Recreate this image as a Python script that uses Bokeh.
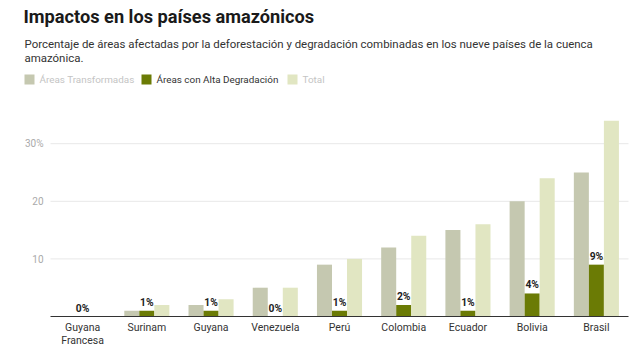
from bokeh.plotting import figure
from bokeh.models import ColumnDataSource, Range1d
from bokeh.layouts import column
from bokeh.transform import dodge
from bokeh.core.properties import value
from bokeh.embed import file_html
from bokeh.resources import INLINE

countries = ["Guyana Francesa", "Surinam", "Guyana", "Venezuela", "Perú",
             "Colombia", "Ecuador", "Bolivia", "Brasil"]
label_line1 = ["Guyana", "Surinam", "Guyana", "Venezuela", "Perú",
               "Colombia", "Ecuador", "Bolivia", "Brasil"]
label_line2 = ["Francesa", "", "", "", "", "", "", "", ""]
transformadas = [0, 1, 2, 5, 9, 12, 15, 20, 25]
alta_degradacion = [0, 1, 1, 0, 1, 2, 1, 4, 9]
total = [0, 2, 3, 5, 10, 14, 16, 24, 34]
y_ticks = [10, 20, 30]
y_tick_labels = ["10", "20", "30%"]

title = "Impactos en los países amazónicos"
subtitle_1 = "Porcentaje de áreas afectadas por la deforestación y degradación combinadas en los nueve países de la cuenca"
subtitle_2 = "amazónica."
legend_names = ["Áreas Transformadas", "Áreas con Alta Degradación", "Total"]

C_TRANS = "#c5c8b0"
C_ALTA = "#6b7b05"
C_TOTAL = "#e1e6c2"
FONT = "Roboto"

W = 640
HEAD_H = 100
CHART_H = 249
LEFT, RIGHT = 50, 12          # px margins of the bar area
PX_PER_UNIT = 5.76            # px per percentage point
BASE = 216                    # baseline, px from top of chart figure

# ---------------- header ----------------
h = figure(width=W, height=HEAD_H, x_range=Range1d(0, W), y_range=Range1d(HEAD_H, 0),
           output_backend="svg", toolbar_location=None,
           x_axis_location=None, y_axis_location=None,
           min_border=0, min_border_left=0, min_border_right=0,
           min_border_top=0, min_border_bottom=0)
h.grid.visible = False
h.outline_line_color = None

h.text(x=[23], y=[16], text=[title], text_font=value(FONT), text_font_size="18.2px",
       text_font_style="bold", text_color="#1a1a1a", text_baseline="middle")
h.text(x=[24, 24], y=[43, 57], text=[subtitle_1, subtitle_2], text_font=value(FONT),
       text_font_size="11.45px", text_color="#333333", text_baseline="middle")

leg_x = [24, 141, 287]
leg_src = ColumnDataSource(dict(
    x=leg_x, tx=[x + 15 for x in leg_x], name=legend_names,
    fill=[C_TRANS, C_ALTA, C_TOTAL], tcol=["#c4c4c4", "#333333", "#c4c4c4"]))
h.quad(left="x", right=dodge("x", 10), top=74, bottom=84, source=leg_src,
       fill_color="fill", line_color=None)
h.text(x="tx", y=79, text="name", source=leg_src, text_font=value(FONT),
       text_font_size="9.9px", text_color="tcol", text_baseline="middle")

# ---------------- chart ----------------
n = len(countries)
xi = list(range(n))
cat_w = (W - LEFT - RIGHT) / n
src = ColumnDataSource(dict(
    x=xi, trans=transformadas, alta=alta_degradacion, total=total,
    lab=[f"{v}%" for v in alta_degradacion], l1=label_line1, l2=label_line2,
    zero=[0] * n))

x_start = -0.5 - LEFT / cat_w
x_end = n - 0.5 + RIGHT / cat_w
y_top = BASE / PX_PER_UNIT
y_bot = -(CHART_H - BASE) / PX_PER_UNIT
p = figure(width=W, height=CHART_H, x_range=Range1d(x_start, x_end),
           y_range=Range1d(y_bot, y_top),
           output_backend="svg", toolbar_location=None,
           x_axis_location=None, y_axis_location=None,
           min_border=0, min_border_left=0, min_border_right=0,
           min_border_top=0, min_border_bottom=0)
p.outline_line_color = None
p.grid.visible = False

# gridlines and y tick labels
g_src = ColumnDataSource(dict(y=y_ticks, lab=y_tick_labels,
                              x0=[-0.5] * len(y_ticks), x1=[n - 0.5] * len(y_ticks)))
p.segment(x0="x0", x1="x1", y0="y", y1="y", source=g_src, line_color="#e8e8e8",
          line_width=1)
p.text(x="x0", y="y", text="lab", source=g_src, x_offset=-7, text_align="right",
       text_baseline="middle", text_font=value(FONT), text_font_size="10px",
       text_color="#aaaaaa")

bw = 0.234
p.vbar(x=dodge("x", -bw), top="trans", width=bw, source=src, color=C_TRANS, line_color=None)
p.vbar(x=dodge("x", 0), top="alta", width=bw, source=src, color=C_ALTA, line_color=None)
p.vbar(x=dodge("x", bw), top="total", width=bw, source=src, color=C_TOTAL, line_color=None)

# baseline (x axis line)
p.segment(x0=[-0.5], x1=[n - 0.5], y0=[0], y1=[0], line_color="#333333", line_width=1)

p.text(x="x", y="alta", text="lab", source=src,
       text_align="center", text_baseline="bottom", y_offset=-2,
       text_font=value(FONT), text_font_style="bold", text_font_size="10.3px",
       text_color="#222222")

p.text(x="x", y="zero", text="l1", source=src, text_align="center",
       text_baseline="middle", y_offset=11, text_font=value(FONT),
       text_font_size="10.5px", text_color="#333333")
p.text(x="x", y="zero", text="l2", source=src, text_align="center",
       text_baseline="middle", y_offset=24, text_font=value(FONT),
       text_font_size="10.5px", text_color="#333333")

layout = column(h, p, spacing=0)
open("out.html", "w").write(file_html(layout, INLINE))
